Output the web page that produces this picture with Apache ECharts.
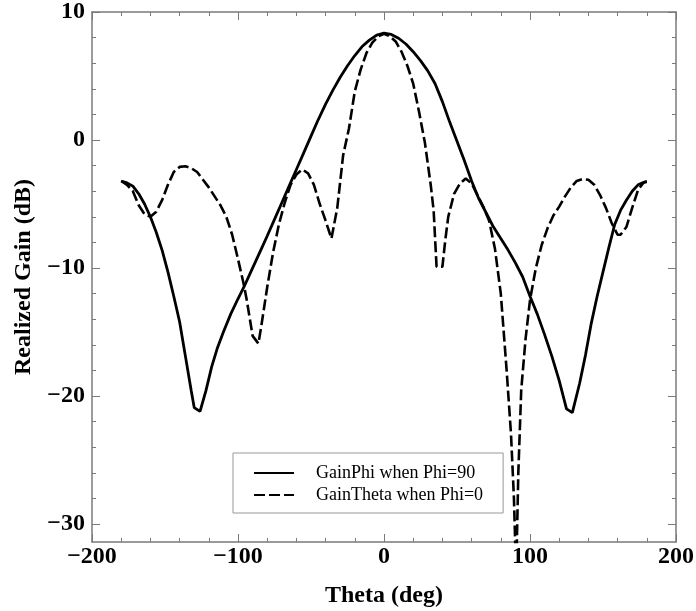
<!DOCTYPE html>
<html>
<head>
<meta charset="utf-8">
<title>Realized Gain</title>
<script src="https://cdn.jsdelivr.net/npm/echarts@6/dist/echarts.min.js"></script>
<style>
html, body { margin: 0; padding: 0; background: #fff; }
#chart { width: 696px; height: 611px; }
</style>
</head>
<body>
<div id="chart"></div>
<script>
// GainPhi when Phi=90 (solid)
var phiTheta = [-180,-176,-172,-168,-164,-160,-156,-152,-148,-144,-140,-136,-132,-130,-126,-122,-118,-114,-110,-105,-100,-96,-92,-88,-84,-80,-75,-70,-65,-60,-55,-50,-45,-40,-35,-30,-25,-20,-15,-10,-5,0,5,10,15,20,25,30,35,40,45,50,55,60,65,70,75,80,85,90,95,100,105,110,115,120,125,129,134,138,142,146,150,154,158,162,166,170,174,178,180];
var phiGain = [-3.2,-3.35,-3.6,-4.2,-5.0,-6.0,-7.2,-8.6,-10.3,-12.2,-14.2,-16.9,-19.6,-20.9,-21.2,-19.6,-17.7,-16.2,-15.0,-13.6,-12.4,-11.5,-10.5,-9.5,-8.5,-7.5,-6.2,-4.9,-3.6,-2.3,-1.0,0.3,1.6,2.8,3.9,4.9,5.8,6.6,7.3,7.8,8.2,8.35,8.25,7.95,7.5,6.9,6.2,5.4,4.4,3.0,1.4,-0.1,-1.6,-3.2,-4.6,-5.7,-6.8,-7.7,-8.6,-9.6,-10.7,-12.2,-13.6,-15.2,-16.9,-18.8,-21.0,-21.3,-19.0,-16.8,-14.3,-12.2,-10.3,-8.4,-6.6,-5.5,-4.7,-4.0,-3.5,-3.3,-3.25];

// GainTheta when Phi=0 (dashed)
var thetaTheta = [-180,-176,-172,-168,-164,-160,-156,-152,-148,-144,-140,-136,-132,-128,-124,-120,-116,-112,-108,-104,-100,-96,-94,-90,-86,-84,-80,-76,-72,-68,-64,-60,-56,-52,-48,-44,-40,-36,-32,-28,-24,-20,-16,-12,-8,-4,0,4,8,12,16,20,24,28,32,34,36,40,42,44,48,52,56,60,64,68,72,76,80,84,87,89,90.5,92,94,97,100,104,108,112,116,120,124,128,132,136,140,144,148,152,156,160,162,166,170,174,178,180];
var thetaGain = [-3.2,-3.5,-4.0,-5.1,-5.8,-6.0,-5.6,-4.7,-3.5,-2.5,-2.1,-2.05,-2.2,-2.5,-3.1,-3.7,-4.4,-5.1,-6.0,-7.4,-9.3,-11.3,-12.5,-15.3,-15.9,-14.5,-11.5,-8.8,-6.6,-4.9,-3.5,-2.7,-2.3,-2.6,-3.5,-5.0,-6.3,-7.7,-5.3,-1.2,0.9,3.8,5.5,6.8,7.6,8.1,8.3,8.1,7.7,6.9,5.8,4.4,2.2,-0.2,-3.5,-5.5,-9.9,-9.9,-7.8,-6.0,-4.2,-3.4,-3.0,-3.4,-4.3,-5.2,-6.3,-8.5,-12.0,-18.0,-23.0,-28.0,-34.0,-26.0,-19.5,-15.5,-12.5,-10.0,-8.2,-6.9,-5.9,-5.2,-4.4,-3.7,-3.2,-3.05,-3.1,-3.5,-4.3,-5.3,-6.5,-7.4,-7.4,-6.8,-5.3,-3.9,-3.3,-3.25];

var yMajorTicks = [-30, -20, -10, 0, 10];
var yMinorTicks = [-30,-28,-26,-24,-22,-20,-18,-16,-14,-12,-10,-8,-6,-4,-2,0,2,4,6,8,10];

function pairs(xs, ys) {
  var out = [];
  for (var i = 0; i < xs.length; i++) out.push([xs[i], ys[i]]);
  return out;
}
function minus(v) {
  return String(v).replace('-', '\u2212');
}

var axisGray = '#7a7a7a';
var font = 'Liberation Serif';
var labelStyle = { color: '#000', fontFamily: font, fontWeight: 'bold', fontSize: 24 };

function yAxisDef(pos, ticks, len, labels, line) {
  return {
    type: 'value', position: pos, min: -31.4, max: 10,
    axisLine: { show: line, onZero: false, lineStyle: { color: axisGray, width: 1.5 } },
    axisTick: { show: true, inside: true, length: len, customValues: ticks, lineStyle: { color: axisGray, width: 1 } },
    axisLabel: labels ? Object.assign({ customValues: yMajorTicks, margin: 7, formatter: minus }, labelStyle) : { show: false },
    splitLine: { show: false }
  };
}

function xAxisDef(pos) {
  return {
    type: 'value', position: pos, min: -200, max: 200, interval: 100,
    axisLine: { onZero: false, lineStyle: { color: axisGray, width: 1.5 } },
    axisTick: { inside: true, length: 8, lineStyle: { color: axisGray } },
    minorTick: { show: true, splitNumber: 5, length: 4, lineStyle: { color: axisGray } },
    axisLabel: { show: false },
    splitLine: { show: false }
  };
}

var chart = echarts.init(document.getElementById('chart'));
chart.setOption({
  backgroundColor: '#fff',
  animation: false,
  grid: { left: 92, right: 20, top: 12, bottom: 69, outerBoundsMode: 'none' },
  legend: {
    orient: 'vertical', left: 233, top: 453,
    padding: [11, 20, 9, 20],
    itemGap: 4, itemWidth: 40, itemHeight: 18,
    borderColor: '#999', borderWidth: 1,
    itemStyle: { opacity: 0 },
    textStyle: { color: '#000', fontFamily: font, fontSize: 18, padding: [0, 0, 0, 17] },
    data: ['GainPhi when Phi=90', 'GainTheta when Phi=0']
  },
  xAxis: [
    Object.assign(xAxisDef('bottom'), {
      name: 'Theta (deg)', nameLocation: 'middle', nameGap: 42,
      nameTextStyle: { color: '#000', fontFamily: font, fontWeight: 'bold', fontSize: 24 },
      axisLabel: Object.assign({ margin: 3, formatter: minus }, labelStyle)
    }),
    xAxisDef('top')
  ],
  yAxis: [
    Object.assign(yAxisDef('left', yMajorTicks, 8, true, true), {
      name: 'Realized Gain (dB)', nameLocation: 'middle', nameGap: 56,
      nameTextStyle: { color: '#000', fontFamily: font, fontWeight: 'bold', fontSize: 24 }
    }),
    yAxisDef('left', yMinorTicks, 4, false, false),
    yAxisDef('right', yMajorTicks, 8, false, true),
    yAxisDef('right', yMinorTicks, 4, false, false)
  ],
  series: [
    {
      name: 'GainPhi when Phi=90', type: 'line', symbol: 'none', clip: true,
      data: pairs(phiTheta, phiGain),
      lineStyle: { color: '#000', width: 2.8 },
      itemStyle: { color: '#000' }
    },
    {
      name: 'GainTheta when Phi=0', type: 'line', symbol: 'none', clip: true,
      data: pairs(thetaTheta, thetaGain),
      lineStyle: { color: '#000', width: 2.6, type: [11, 4] },
      itemStyle: { color: '#000' }
    }
  ]
});
</script>
</body>
</html>
